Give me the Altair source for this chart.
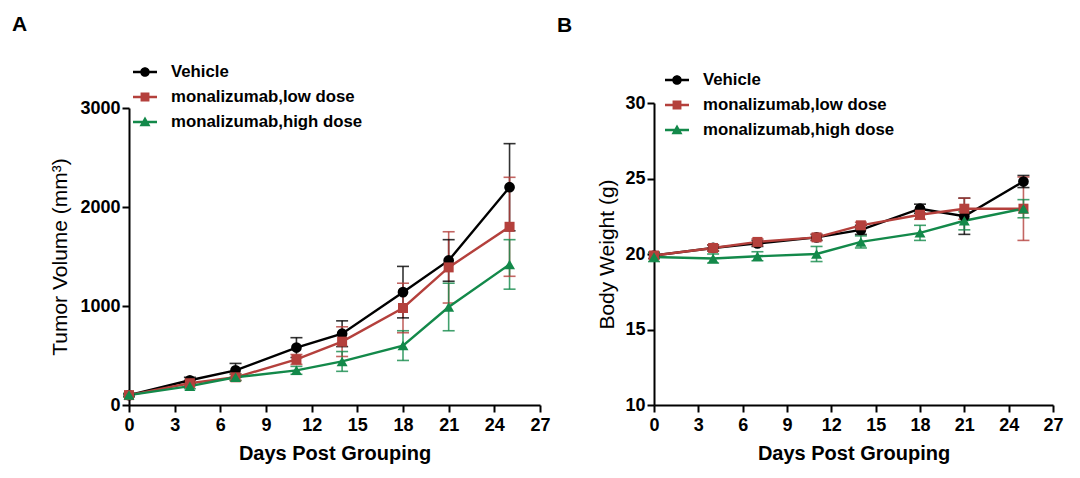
import altair as alt
import pandas as pd

FONT = "Liberation Sans"

days = [0, 4, 7, 11, 14, 18, 21, 25]
groups = ["Vehicle", "monalizumab,low dose", "monalizumab,high dose"]
colors = ["#000000", "#B4403C", "#13894A"]
point_shapes = ["circle", "square", "triangle-up"]
point_sizes = [115, 100, 120]
x_ticks = [0, 3, 6, 9, 12, 15, 18, 21, 24, 27]

# Panel A: tumor volume (mm^3), mean and error
tumor_vehicle = [100, 250, 350, 580, 720, 1140, 1460, 2200]
tumor_vehicle_err = [15, 30, 70, 100, 130, 260, 210, 440]
tumor_low = [100, 220, 280, 460, 640, 980, 1390, 1800]
tumor_low_err = [15, 25, 35, 50, 150, 250, 360, 500]
tumor_high = [100, 190, 280, 350, 440, 600, 990, 1420]
tumor_high_err = [15, 25, 30, 40, 100, 150, 240, 250]
tumor_ticks = [0, 1000, 2000, 3000]

# Panel B: body weight (g), mean and error
weight_vehicle = [19.9, 20.4, 20.7, 21.1, 21.6, 23.0, 22.5, 24.8]
weight_vehicle_err = [0.2, 0.2, 0.2, 0.2, 0.3, 0.3, 1.2, 0.4]
weight_low = [19.9, 20.4, 20.8, 21.1, 21.9, 22.6, 23.0, 23.0]
weight_low_err = [0.2, 0.2, 0.2, 0.2, 0.2, 0.3, 0.7, 2.1]
weight_high = [19.8, 19.7, 19.85, 20.0, 20.8, 21.4, 22.2, 23.0]
weight_high_err = [0.3, 0.3, 0.3, 0.5, 0.4, 0.5, 0.6, 0.6]
weight_ticks = [10, 15, 20, 25, 30]

# legend symbols: a short bar with the marker in its middle (unit box -1..1)
BAR = "M-1,-0.1L1,-0.1L1,0.1L-1,0.1Z"
legend_paths = [
    BAR + "M0.4,0A0.4,0.4,0,1,1,-0.4,0A0.4,0.4,0,1,1,0.4,0Z",
    BAR + "M-0.37,-0.37L0.37,-0.37L0.37,0.37L-0.37,0.37Z",
    BAR + "M0,-0.45L0.46,0.35L-0.46,0.35Z",
]


def make_df(means, errs):
    rows = []
    for g, m, e in zip(groups, means, errs):
        for d, v, s in zip(days, m, e):
            rows.append({"day": d, "group": g, "mean": v, "lo": v - s, "hi": v + s})
    return pd.DataFrame(rows)


def panel(df, ydom, yrange, yticks, ytitle, w, h, label, label_dx, label_offset,
          leg_x, leg_y, ytitle_pad):
    base = alt.Chart(df)
    x = alt.X(
        "day:Q",
        scale=alt.Scale(domain=[0, 27], nice=False, zero=False),
        axis=alt.Axis(
            values=x_ticks, title="Days Post Grouping", grid=False, format="d",
            labelFlush=False,
            domainColor="black", domainWidth=2, tickColor="black", tickWidth=2,
            tickSize=7, labelFont=FONT, labelFontSize=18, labelFontWeight="bold",
            labelColor="black", labelPadding=4, titleFont=FONT, titleFontSize=20,
            titleFontWeight="bold", titleColor="black", titlePadding=9,
        ),
    )
    yscale = alt.Scale(domain=ydom, range=yrange, nice=False, zero=False)
    yaxis = alt.Axis(
        values=yticks, title=ytitle, grid=False, format="d", labelFlush=False,
        domainColor="black", domainWidth=2, tickColor="black", tickWidth=2,
        tickSize=7, labelFont=FONT, labelFontSize=18, labelFontWeight="bold",
        labelColor="black", labelPadding=2, titleFont=FONT, titleFontSize=21,
        titleFontWeight="normal", titleColor="black", titlePadding=ytitle_pad,
    )
    leg = alt.Legend(
        title=None, orient="none", legendX=leg_x, legendY=leg_y, padding=0,
        labelFont=FONT, labelFontSize=16.8, labelFontWeight="bold", labelColor="black",
        symbolSize=576, symbolStrokeWidth=0, symbolOpacity=1, labelOffset=14,
        rowPadding=4, labelLimit=400,
    )
    color = alt.Color("group:N", scale=alt.Scale(domain=groups, range=colors), legend=leg)

    rule = base.mark_rule(strokeWidth=1.6, opacity=0.8).encode(
        x=x, y=alt.Y("lo:Q", scale=yscale, axis=yaxis), y2="hi:Q", color=color)
    cap_hi = base.mark_tick(orient="horizontal", size=12, thickness=1.6, opacity=0.8).encode(
        x=x, y=alt.Y("hi:Q", scale=yscale, axis=yaxis), color=color)
    cap_lo = base.mark_tick(orient="horizontal", size=12, thickness=1.6, opacity=0.8).encode(
        x=x, y=alt.Y("lo:Q", scale=yscale, axis=yaxis), color=color)
    line = base.mark_line(strokeWidth=2.4).encode(
        x=x, y=alt.Y("mean:Q", scale=yscale, axis=yaxis), color=color)
    layers = [rule, cap_hi, cap_lo, line]
    for g, shp, sz in zip(groups, point_shapes, point_sizes):
        layers.append(
            base.transform_filter(alt.datum.group == g)
            .mark_point(filled=True, size=sz, opacity=1, shape=shp)
            .encode(x=x, y=alt.Y("mean:Q", scale=yscale, axis=yaxis), color=color)
        )

    legend_layer = base.transform_filter("false").mark_point(filled=True, opacity=1).encode(
        x=x, y=alt.Y("mean:Q", scale=yscale, axis=yaxis),
        color=color,
        shape=alt.Shape("group:N", scale=alt.Scale(domain=groups, range=legend_paths), legend=leg),
    )
    layers.append(legend_layer)
    return alt.layer(*layers).properties(
        width=w, height=h,
        title=alt.TitleParams(
            label, anchor="start", frame="group", dx=label_dx, offset=label_offset,
            font=FONT, fontSize=21, fontWeight="bold", color="black",
        ),
    )


df_a = make_df([tumor_vehicle, tumor_low, tumor_high],
               [tumor_vehicle_err, tumor_low_err, tumor_high_err])
df_b = make_df([weight_vehicle, weight_low, weight_high],
               [weight_vehicle_err, weight_low_err, weight_high_err])

chart_a = panel(df_a, [0, 3000], [302, 5], tumor_ticks, "Tumor Volume (mm³)", 411, 302,
                "A", -117, 25, 4, -43, 9)
chart_b = panel(df_b, [10, 30], [302, 0], weight_ticks, "Body Weight (g)", 399, 302,
                "B", -97, 32, 11, -35, 7)

chart = (
    alt.hconcat(chart_a, chart_b, spacing=6)
    .resolve_scale(color="independent", shape="independent")
    .resolve_legend(color="independent", shape="independent")
    .configure_view(stroke=None)
    .properties(
        padding={"left": 4, "top": 6, "right": 5, "bottom": 5},
        background="white",
    )
)

chart.save("out.html", embed_options={"renderer": "svg", "actions": False})
